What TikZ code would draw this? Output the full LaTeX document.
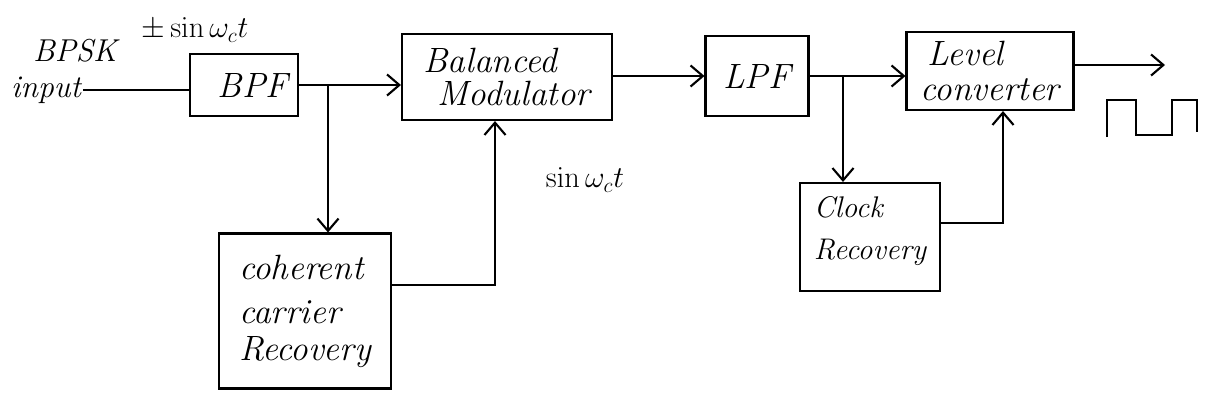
\documentclass[tikz,border=0pt]{standalone}
\usetikzlibrary{arrows.meta}
\begin{document}
\begin{tikzpicture}[x=0.02cm,y=-0.02cm,
  every node/.style={font=\itshape\fontsize{20}{24}\selectfont},
  blk/.style={draw,line width=1.2pt,inner sep=2pt},
  wire/.style={line width=1.2pt},
  arr/.style={wire,-{Straight Barb[length=7pt,width=12pt,line width=1.2pt]}},
  lbl/.style={inner sep=1pt,font=\itshape\fontsize{18}{21}\selectfont}]
\useasboundingbox (0,0) rectangle (1207,406);
% blocks
\node[blk,minimum width=2.16cm,minimum height=1.24cm] (bpf) at (244,85) {\hspace*{0.5em}BPF};
\node[blk,minimum width=4.2cm,minimum height=1.72cm,align=left] (bm) at (507,77) {Balanced\\[-5pt]\hspace*{0.4em}Modulator};
\node[blk,minimum width=2.06cm,minimum height=1.6cm] (lpf) at (757,76) {LPF};
\node[blk,minimum width=3.34cm,minimum height=1.56cm,align=left] (lc) at (990,71) {\hspace*{0.2em}Level\\[-4pt]converter};
\node[blk,minimum width=3.44cm,minimum height=3.1cm,align=left] (ccr) at (305,311) {coherent\\[1pt]carrier\\[-3pt]Recovery};
\node[blk,minimum width=2.8cm,minimum height=2.16cm,align=left,font=\itshape\fontsize{17}{20}\selectfont] (cr) at (870,237) {Clock\\[4pt]Recovery\\[-10pt]\mbox{}};
% labels
\node[lbl] (bpsk) at (75,51) {BPSK};
\node[lbl] (inp) at (46,90) {input};
\node[lbl] (carr) at (195,30) {$\pm\sin\omega_c t$};
\node[lbl] (sinl) at (585,180) {$\sin\omega_c t$};
% connectors
\draw[wire] (inp.east) -- (inp.east -| bpf.west);
\draw[arr] (bpf.east) -- (bpf.east -| bm.west);
\coordinate (j1) at (328,85);
\draw[arr] (j1) -- (j1 |- ccr.north);
\coordinate (k1) at (495,285);
\draw[arr] (ccr.east |- k1) -- (k1) -- (k1 |- bm.south);
\draw[arr] (bm.east |- lpf.west) -- (lpf.west);
\draw[arr] (lpf.east) -- (lpf.east -| lc.west);
\coordinate (j2) at (843,76);
\draw[arr] (j2) -- (j2 |- cr.north);
\coordinate (k2) at (1003,223);
\draw[arr] (cr.east |- k2) -- (k2) -- (k2 |- lc.south);
\coordinate (out) at (1165,65);
\draw[arr] (lc.east |- out) -- (out);
% output waveform
\draw[wire] (1107,137) -- (1107,100) -- (1136,100) -- (1136,135) -- (1172,135) -- (1172,100) -- (1197,100) -- (1197,132);
\end{tikzpicture}
\end{document}
